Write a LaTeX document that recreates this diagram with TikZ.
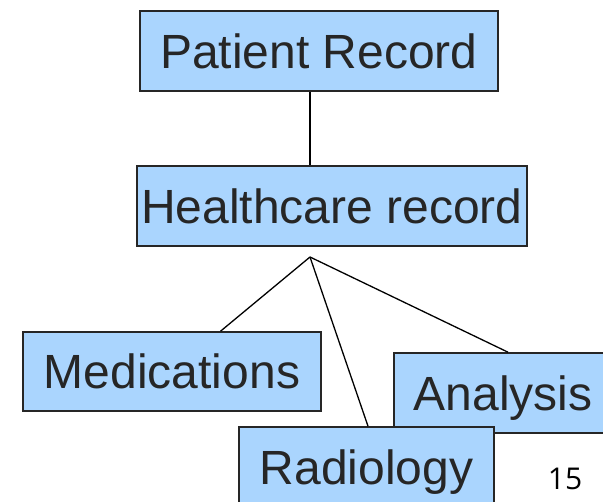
\documentclass[tikz,border=0pt]{standalone}
\usepackage{fontspec}
\setmainfont{Liberation Sans}
\newfontfamily\pagefont{Open Sans}
\usepackage{tikz}

\definecolor{boxblue}{RGB}{170,213,254}
\definecolor{ink}{RGB}{38,38,38}

\begin{document}
\begin{tikzpicture}[x=1pt, y=-1pt,
  every node/.style={rectangle, draw=ink, fill=boxblue, line width=1.6pt,
    text=ink, font=\fontsize{48}{48}\selectfont, inner sep=0pt,
    text height=34.5pt, text depth=0pt},
  link/.style={draw=black, line width=1.3pt}]
\useasboundingbox (0,0) rectangle (603,502);
\node (pat) [minimum width=358pt, minimum height=80pt] at (319,51) {Patient Record};
\node (health) [minimum width=390pt, minimum height=80pt] at (332,206) {Healthcare record};
\coordinate (hub) at (310,257);
\draw[link] (hub |- pat.south) -- (hub |- health.north);
\node (med) [minimum width=298pt, minimum height=79pt] at (172,371.5) {Medications};
\node (ana) [minimum width=218pt, minimum height=80pt] at (503,393) {Analysis};
\node (rad) [minimum width=255pt, minimum height=80pt] at (366.5,467) {Radiology};
\draw[link] (hub) -- (med);
\draw[link] (hub) -- ([xshift=1.5pt]rad.north);
\draw[link] (hub) -- ([xshift=5pt]ana.north);
\node (page) [draw=none, fill=none, text=black, text height=, text depth=,
  font=\pagefont\fontsize{30}{30}\selectfont] at (565,479) {15};
\end{tikzpicture}
\end{document}
